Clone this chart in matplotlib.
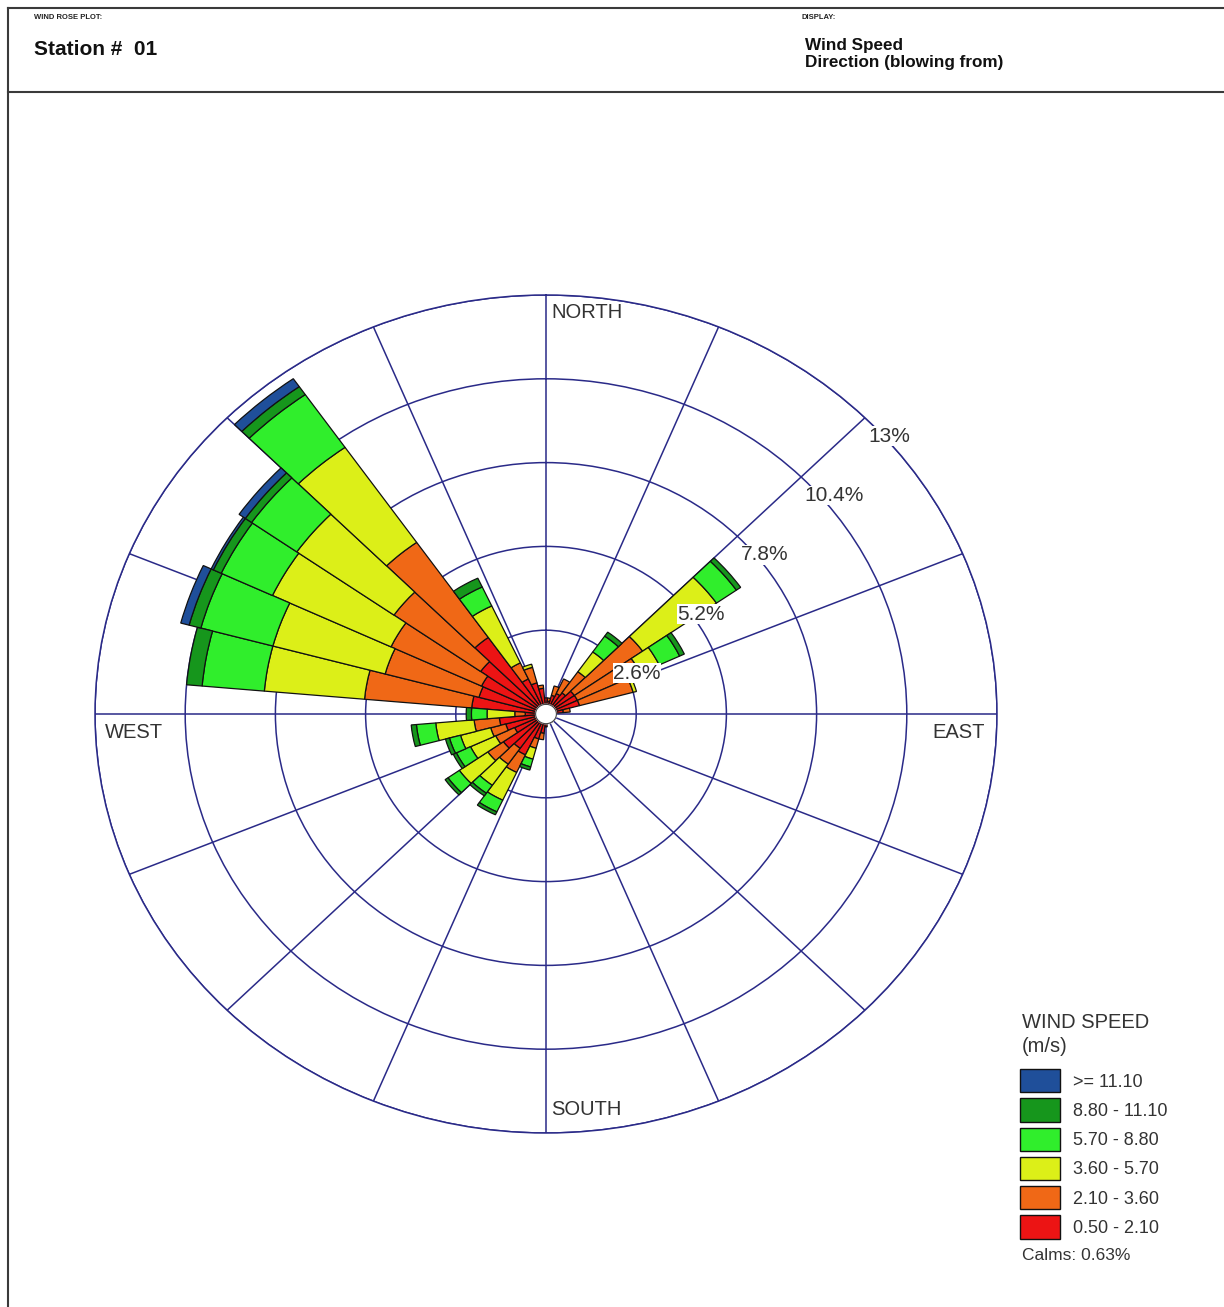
import matplotlib.pyplot as plt
import numpy as np
from matplotlib.patches import Patch
from matplotlib.lines import Line2D

plt.rcParams['font.family'] = ['Liberation Sans', 'DejaVu Sans']

# direction sectors (deg, clockwise from north)
directions = np.arange(0, 360, 10)

speed_labels = ['0.50 - 2.10', '2.10 - 3.60', '3.60 - 5.70',
                '5.70 - 8.80', '8.80 - 11.10', '>= 11.10']
speed_colors = ['#ec1414', '#f06816', '#dcef18', '#30ee2c', '#16961c', '#1f4f9a']

# frequency (%) per sector for every speed class
freq_050_210 = [0.5, 0.4, 0.6, 0.7, 0.8, 1.0, 1.0, 1.0, 0.5, 0.3, 0.25, 0.25,
                0.3, 0.3, 0.3, 0.3, 0.3, 0.3, 0.4, 0.6, 0.8, 1.4, 1.3, 1.5,
                1.0, 1.2, 1.35, 0.6, 2.15, 2.0, 2.05, 2.3, 2.9, 1.2, 1.0, 0.8]
freq_210_360 = [0, 0.1, 0.3, 0.5, 0.8, 2.4, 2.0, 1.6, 0.2, 0, 0, 0,
                0, 0, 0, 0, 0, 0, 0, 0.2, 0.3, 0.6, 0.6, 0.55,
                0.6, 0.45, 0.73, 0.3, 3.1, 2.8, 2.88, 3.05, 3.6, 0.55, 0.5, 0.1]
freq_360_570 = [0, 0, 0, 0, 0.75, 2.6, 0.6, 0.1, 0, 0, 0, 0,
                0, 0, 0, 0, 0, 0, 0, 0, 0.35, 0.95, 0.8, 1.0,
                0.8, 0.9, 1.11, 0.8, 2.9, 3.35, 3.77, 3.42, 3.6, 1.95, 0.1, 0]
freq_570_880 = [0, 0, 0, 0, 0.6, 0.7, 0.65, 0, 0, 0, 0, 0,
                0, 0, 0, 0, 0, 0, 0, 0, 0.25, 0.4, 0.3, 0.4,
                0.45, 0.33, 0.56, 0.45, 1.8, 2.15, 1.63, 1.59, 2.0, 0.65, 0, 0]
freq_880_1110 = [0, 0, 0, 0, 0.15, 0.15, 0.15, 0, 0, 0, 0, 0,
                 0, 0, 0, 0, 0, 0, 0, 0, 0.1, 0.1, 0.1, 0.1,
                 0.1, 0.12, 0.15, 0.15, 0.45, 0.35, 0.25, 0.22, 0.3, 0.3, 0, 0]
freq_1110_up = [0, 0, 0, 0, 0, 0, 0, 0, 0, 0, 0, 0,
                0, 0, 0, 0, 0, 0, 0, 0, 0, 0, 0, 0,
                0, 0, 0, 0, 0, 0.25, 0.07, 0.22, 0.3, 0, 0, 0]

ring_values = [2.6, 5.2, 7.8, 10.4, 13]
calms = 0.63

freqs = [freq_050_210, freq_210_360, freq_360_570,
         freq_570_880, freq_880_1110, freq_1110_up]

W, H = 1224, 1307
fig = plt.figure(figsize=(W / 100, H / 100), dpi=100)

# page frame and header
grey = '#3a3a3a'
fig.add_artist(Line2D([8 / W, 1], [1 - 8 / H, 1 - 8 / H], color=grey, lw=1.5))
fig.add_artist(Line2D([8 / W, 1], [1 - 92 / H, 1 - 92 / H], color=grey, lw=1.5))
fig.add_artist(Line2D([8 / W, 8 / W], [0, 1 - 8 / H], color=grey, lw=1.5))

fig.text(34 / W, 1 - 14 / H, 'WIND ROSE PLOT:', fontsize=5.5, fontweight='bold',
         va='top', color='#222222')
fig.text(34 / W, 1 - 40 / H, 'Station #  01', fontsize=15, fontweight='bold',
         va='top', color='#111111')
fig.text(802 / W, 1 - 14 / H, 'DISPLAY:', fontsize=5.5, fontweight='bold',
         va='top', color='#222222')
fig.text(805 / W, 1 - 38 / H, 'Wind Speed', fontsize=12.3,
         fontweight='bold', va='top', color='#111111')
fig.text(805 / W, 1 - 55 / H, 'Direction (blowing from)', fontsize=12.3,
         fontweight='bold', va='top', color='#111111')

# wind rose (stretched polar axes)
cx, cy, rx, ry = 546, 714, 451, 419
ax = fig.add_axes([(cx - rx) / W, 1 - (cy + ry) / H, 2 * rx / W, 2 * ry / H],
                  projection='polar')
ax.set_aspect('auto')
ax.set_theta_zero_location('N')
ax.set_theta_direction(-1)
ax.set_ylim(0, ring_values[-1])
ax.set_axisbelow(True)

theta = np.deg2rad(directions)
width = np.deg2rad(10)
bottom = np.zeros(len(directions))
for vals, col in zip(freqs, speed_colors):
    vals = np.array(vals, dtype=float)
    m = vals > 0
    ax.bar(theta[m], vals[m], width=width, bottom=bottom[m], color=col,
           edgecolor='#111111', linewidth=0.9, align='center', zorder=3)
    bottom += vals

navy = '#2a2a88'
ax.set_thetagrids(np.arange(0, 360, 22.5), labels=[])
ax.set_rgrids(ring_values, labels=[])
ax.grid(True, color=navy, linewidth=1.1)
ax.spines['polar'].set_color(navy)
ax.spines['polar'].set_linewidth(1.1)

# calm circle in the middle
t = np.linspace(0, 2 * np.pi, 100)
ax.fill(t, np.full_like(t, 0.3), color='white', zorder=5)
ax.plot(t, np.full_like(t, 0.3), color='#444444', lw=0.8, zorder=6)

# ring labels
for rv in ring_values:
    ax.annotate(f'{rv:g}%', xy=(np.deg2rad(45), rv), xytext=(2.5, -6.5),
                textcoords='offset points', ha='left', va='top', fontsize=15,
                color='#333333', zorder=7,
                bbox=dict(facecolor='white', edgecolor='none', pad=0.3))

lab = dict(fontsize=14.5, color='#333333', zorder=7)
ax.annotate('NORTH', xy=(0, 13), xytext=(4, -6), textcoords='offset points',
            ha='left', va='top', **lab)
ax.annotate('SOUTH', xy=(np.pi, 13), xytext=(4, 10), textcoords='offset points',
            ha='left', va='bottom', **lab)
ax.annotate('WEST', xy=(1.5 * np.pi, 13), xytext=(7, -6.5), textcoords='offset points',
            ha='left', va='top', **lab)
ax.annotate('EAST', xy=(0.5 * np.pi, 13), xytext=(-9, -6.5), textcoords='offset points',
            ha='right', va='top', **lab)

# legend
fig.text(1022 / W, 1 - 1013 / H, 'WIND SPEED\n(m/s)', fontsize=14.5, va='top',
         color='#333333', linespacing=1.3)
handles = [Patch(facecolor=c, edgecolor='#111111', linewidth=1.0)
           for c in speed_colors[::-1]]
leg = fig.legend(handles, speed_labels[::-1], loc='upper left',
                 bbox_to_anchor=(1020 / W, 1 - 1069 / H), frameon=False,
                 fontsize=13, handlelength=2.2, handleheight=1.61,
                 labelspacing=0.33, handletextpad=0.75, borderaxespad=0,
                 borderpad=0)
for txt in leg.get_texts():
    txt.set_color('#333333')
fig.text(1022 / W, 1 - 1256 / H, f'Calms: {calms:.2f}%', fontsize=12.5,
         va='center', color='#333333')

fig.savefig('out.png', dpi=100)
